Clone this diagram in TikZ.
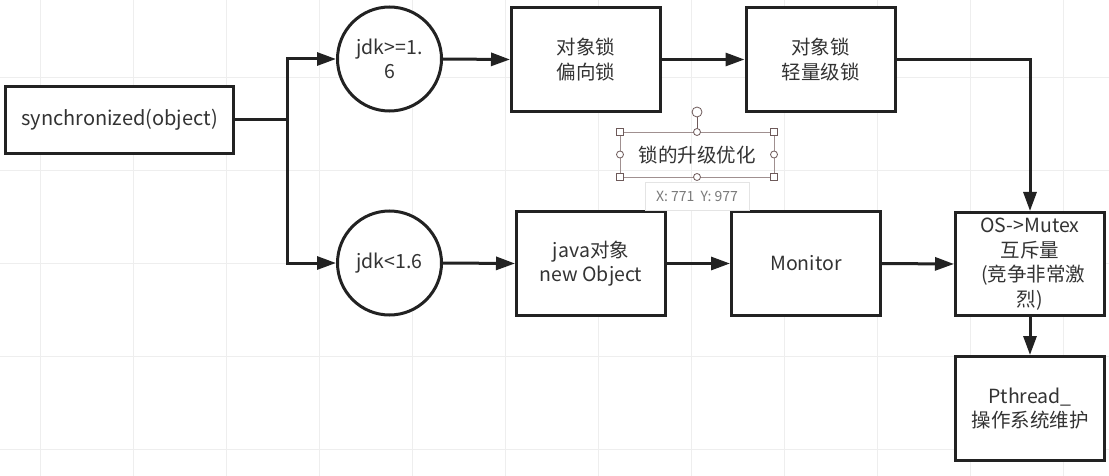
\documentclass[tikz,border=0pt]{standalone}
\usepackage{fontspec}
\setmainfont{Noto Sans CJK SC}
\usetikzlibrary{arrows.meta,calc}
\definecolor{ink}{HTML}{222222}
\definecolor{txt}{HTML}{333333}
\definecolor{gridc}{HTML}{EEEEEE}
\definecolor{selc}{HTML}{A09090}
\definecolor{hdl}{HTML}{6E5A5A}
\definecolor{tipb}{HTML}{E4E4E4}
\definecolor{tipt}{HTML}{7A7A7A}
\begin{document}
\begin{tikzpicture}[x=1pt,y=-1pt,
  box/.style={draw=ink,line width=3pt,fill=white,minimum width=149pt,minimum height=104pt,inner sep=0pt,align=center,text=txt,font=\fontsize{19.5}{24.5}\selectfont},
  circ/.style={circle,draw=ink,line width=3pt,fill=white,minimum size=104pt,inner sep=0pt,align=center,text=txt,font=\fontsize{19.5}{24.5}\selectfont},
  conn/.style={draw=ink,line width=3pt,-{Triangle[length=19pt,width=13pt]}},
  plain/.style={draw=ink,line width=3pt},
  sqh/.style={draw=hdl,fill=white,line width=0.8pt,minimum size=6.5pt,inner sep=0pt},
  cih/.style={circle,draw=hdl,fill=white,line width=0.8pt,minimum size=7pt,inner sep=0pt}]
\useasboundingbox (0,0) rectangle (1109,476);
\fill[white] (0,0) rectangle (1109,476);
% grid
\foreach \x in {40,133,...,1063} \draw[gridc,line width=0.8pt] (\x,0) -- (\x,476);
\foreach \y in {77,170,...,449} \draw[gridc,line width=0.8pt] (0,\y) -- (1109,\y);

% nodes
\node[box,minimum width=228pt,minimum height=67pt,font=\fontsize{20}{24.5}\selectfont] (sync) at (119.5,120) {synchronized(object)};
\node[circ] (c1) at (389.5,59) {jdk>=1.\\6};
\node[circ] (c2) at (389.5,263) {jdk<1.6};
\node[box] (pian) at (586,59.5) {对象锁\\偏向锁};
\node[box] (qing) at (820.5,59.5) {对象锁\\轻量级锁};
\node[box] (java) at (591,263.5) {java对象\\new Object};
\node[box] (mon) at (806,263.5) {Monitor};
\node[box,minimum height=103pt] (mutex) at (1030,264) {OS->Mutex\\互斥量\\\hspace*{0.35em}(竞争非常激\\烈)};
\node[box] (pth) at (1030,408.5) {Pthread\_\\操作系统维护};

% connectors
\coordinate (j) at (287,120);
\draw[plain] (sync.east) -- (j);
\draw[conn] (j) |- (c1.west);
\draw[conn] (j) |- (c2.west);
\draw[conn] (c1.east) -- (pian.west);
\draw[conn] (pian.east) -- (qing.west);
\draw[conn] (qing.east) -| (mutex.north);
\draw[conn] (c2.east) -- (java.west);
\draw[conn] (java.east) -- (mon.west);
\draw[conn] (mon.east) -- (mutex.west);
\draw[conn] (mutex.south) -- (pth.north);

% selected text element
\node[text=txt,font=\fontsize{19.5}{24}\selectfont,inner sep=0pt] (lbl) at (697,155) {锁的升级优化};
\draw[selc,line width=0.8pt] (620,132) rectangle (774,177);
\draw[hdl,line width=0.8pt] (697,112) -- (697,132);
\node[cih,minimum size=10pt] (rot) at (697,112) {};
\foreach \p in {(620,132),(774,132),(620,177),(774,177)} \node[sqh] at \p {};
\foreach \p in {(697,132),(697,177),(620,154.5),(774,154.5)} \node[cih] at \p {};

% tooltip
\node[draw=tipb,fill=white,line width=0.8pt,minimum width=104pt,minimum height=28pt,inner sep=0pt,text=tipt,font=\fontsize{14}{16}\selectfont] (tip) at (697,196) {X: 771\ \ Y: 977};
\end{tikzpicture}
\end{document}
